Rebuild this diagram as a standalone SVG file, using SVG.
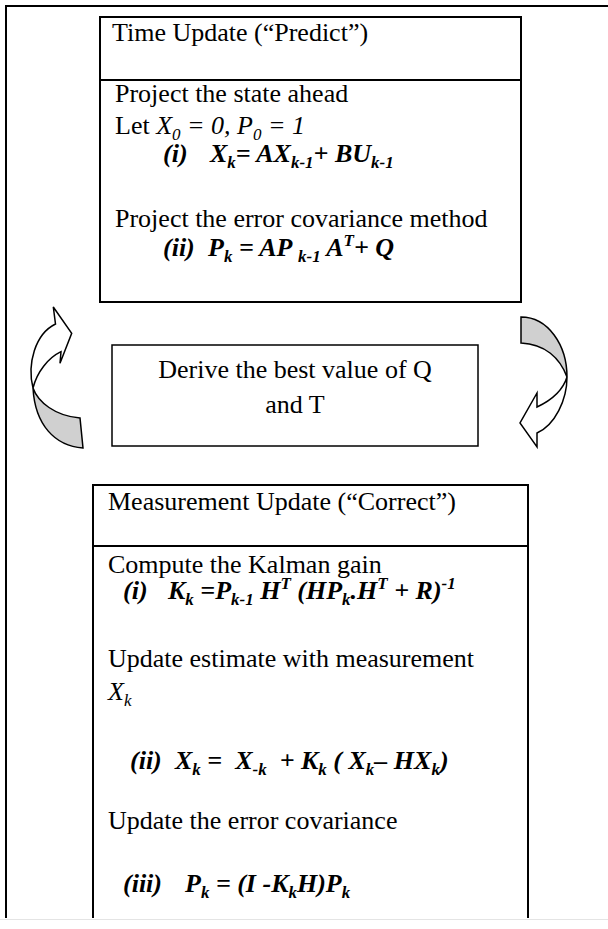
<svg xmlns="http://www.w3.org/2000/svg" width="608" height="929" viewBox="0 0 608 929">
<style>
.frame{fill:none;stroke:#000;stroke-width:2}
.box{fill:none;stroke:#000;stroke-width:2}
.t{font-family:"Liberation Serif","Times New Roman",serif;font-size:26px;fill:#000}
.f{font-weight:bold;font-style:italic}
.i{font-style:italic}
.s{font-size:17px}
.arw{stroke:#000;stroke-width:1.5;stroke-linejoin:miter}
.back{fill:#d0d0d0}
.front{fill:#fff}
</style>
<rect width="608" height="929" fill="#fff"/>
<path class="frame" d="M608,6 H6 V918"/>
<line x1="0" y1="919.5" x2="608" y2="919.5" stroke="#e4e4e4" stroke-width="1"/>

<g id="time-update">
<rect class="box" x="100" y="17" width="421" height="285"/>
<line class="box" x1="100" y1="80" x2="521" y2="80"/>
<text class="t" x="112" y="41">Time Update (“Predict”)</text>
<text class="t" x="115" y="102">Project the state ahead</text>
<text class="t" x="115" y="134">Let <tspan class="i">X<tspan class="s" baseline-shift="-6">0</tspan> = 0, P<tspan class="s" baseline-shift="-6">0</tspan> = 1</tspan></text>
<text class="t f" x="163" y="162">(i)<tspan x="210">X</tspan><tspan class="s" baseline-shift="-6">k</tspan>= AX<tspan class="s" baseline-shift="-6">k-1</tspan>+ BU<tspan class="s" baseline-shift="-6">k-1</tspan></text>
<text class="t" x="115" y="227">Project the error covariance method</text>
<text class="t f" x="163" y="256">(ii)<tspan x="208">P</tspan><tspan class="s" baseline-shift="-6">k</tspan> = AP <tspan class="s" baseline-shift="-6">k-1</tspan> A<tspan class="s" baseline-shift="10">T</tspan>+ Q</text>
</g>

<g id="derive">
<rect x="112" y="345" width="366" height="101" fill="none" stroke="#000" stroke-width="1.5"/>
<text class="t" x="295" y="378" text-anchor="middle">Derive the best value of Q</text>
<text class="t" x="295" y="413" text-anchor="middle">and T</text>
</g>

<g id="measurement-update">
<path class="box" d="M93,918 V485 H528 V918"/>
<line class="box" x1="93" y1="546" x2="528" y2="546"/>
<text class="t" x="108" y="510">Measurement Update (“Correct”)</text>
<text class="t" x="108" y="573">Compute the Kalman gain</text>
<text class="t f" x="123" y="599">(i)<tspan x="168">K</tspan><tspan class="s" baseline-shift="-6">k</tspan> =P<tspan class="s" baseline-shift="-6">k-1</tspan> H<tspan class="s" baseline-shift="10">T</tspan> (HP<tspan class="s" baseline-shift="-6">k</tspan>.H<tspan class="s" baseline-shift="10">T</tspan> + R)<tspan class="s" baseline-shift="10">-1</tspan></text>
<text class="t" x="108" y="667">Update estimate with measurement</text>
<text class="t i" x="108" y="700">X<tspan class="s" baseline-shift="-6">k</tspan></text>
<text class="t f" x="130" y="769" xml:space="preserve">(ii)<tspan x="175">X</tspan><tspan class="s" baseline-shift="-6">k</tspan> =  X<tspan class="s" baseline-shift="-6">-k</tspan>  + K<tspan class="s" baseline-shift="-6">k</tspan> ( X<tspan class="s" baseline-shift="-6">k</tspan>– HX<tspan class="s" baseline-shift="-6">k</tspan>)</text>
<text class="t" x="108" y="829">Update the error covariance</text>
<text class="t f" x="123" y="892">(iii)<tspan x="185">P</tspan><tspan class="s" baseline-shift="-6">k</tspan> = (I -K<tspan class="s" baseline-shift="-6">k</tspan>H)P<tspan class="s" baseline-shift="-6">k</tspan></text>
</g>

<g id="connectors">
<g id="arrow-left">
<path class="arw back" d="M83,448 C55,446 35,425 33,388 C38,402 55,416 80,418 Z"/>
<path class="arw front" d="M33,388 C27,364 35,334 55.5,324 L53.3,307 L71.7,333.3 L60,363.3 L61,351.7 C48,358 37,372 33,388 Z"/>
</g>
<g id="arrow-right">
<path class="arw back" d="M521,317 C548,317 567,345 567,377 C560,358 545,344 521,343 Z"/>
<path class="arw front" d="M567,377 C567,400 555,425 537,433 L537,447 L520,423 L537,393 L537,407 C552,400 563,390 567,377 Z"/>
</g>
</g>
</svg>
